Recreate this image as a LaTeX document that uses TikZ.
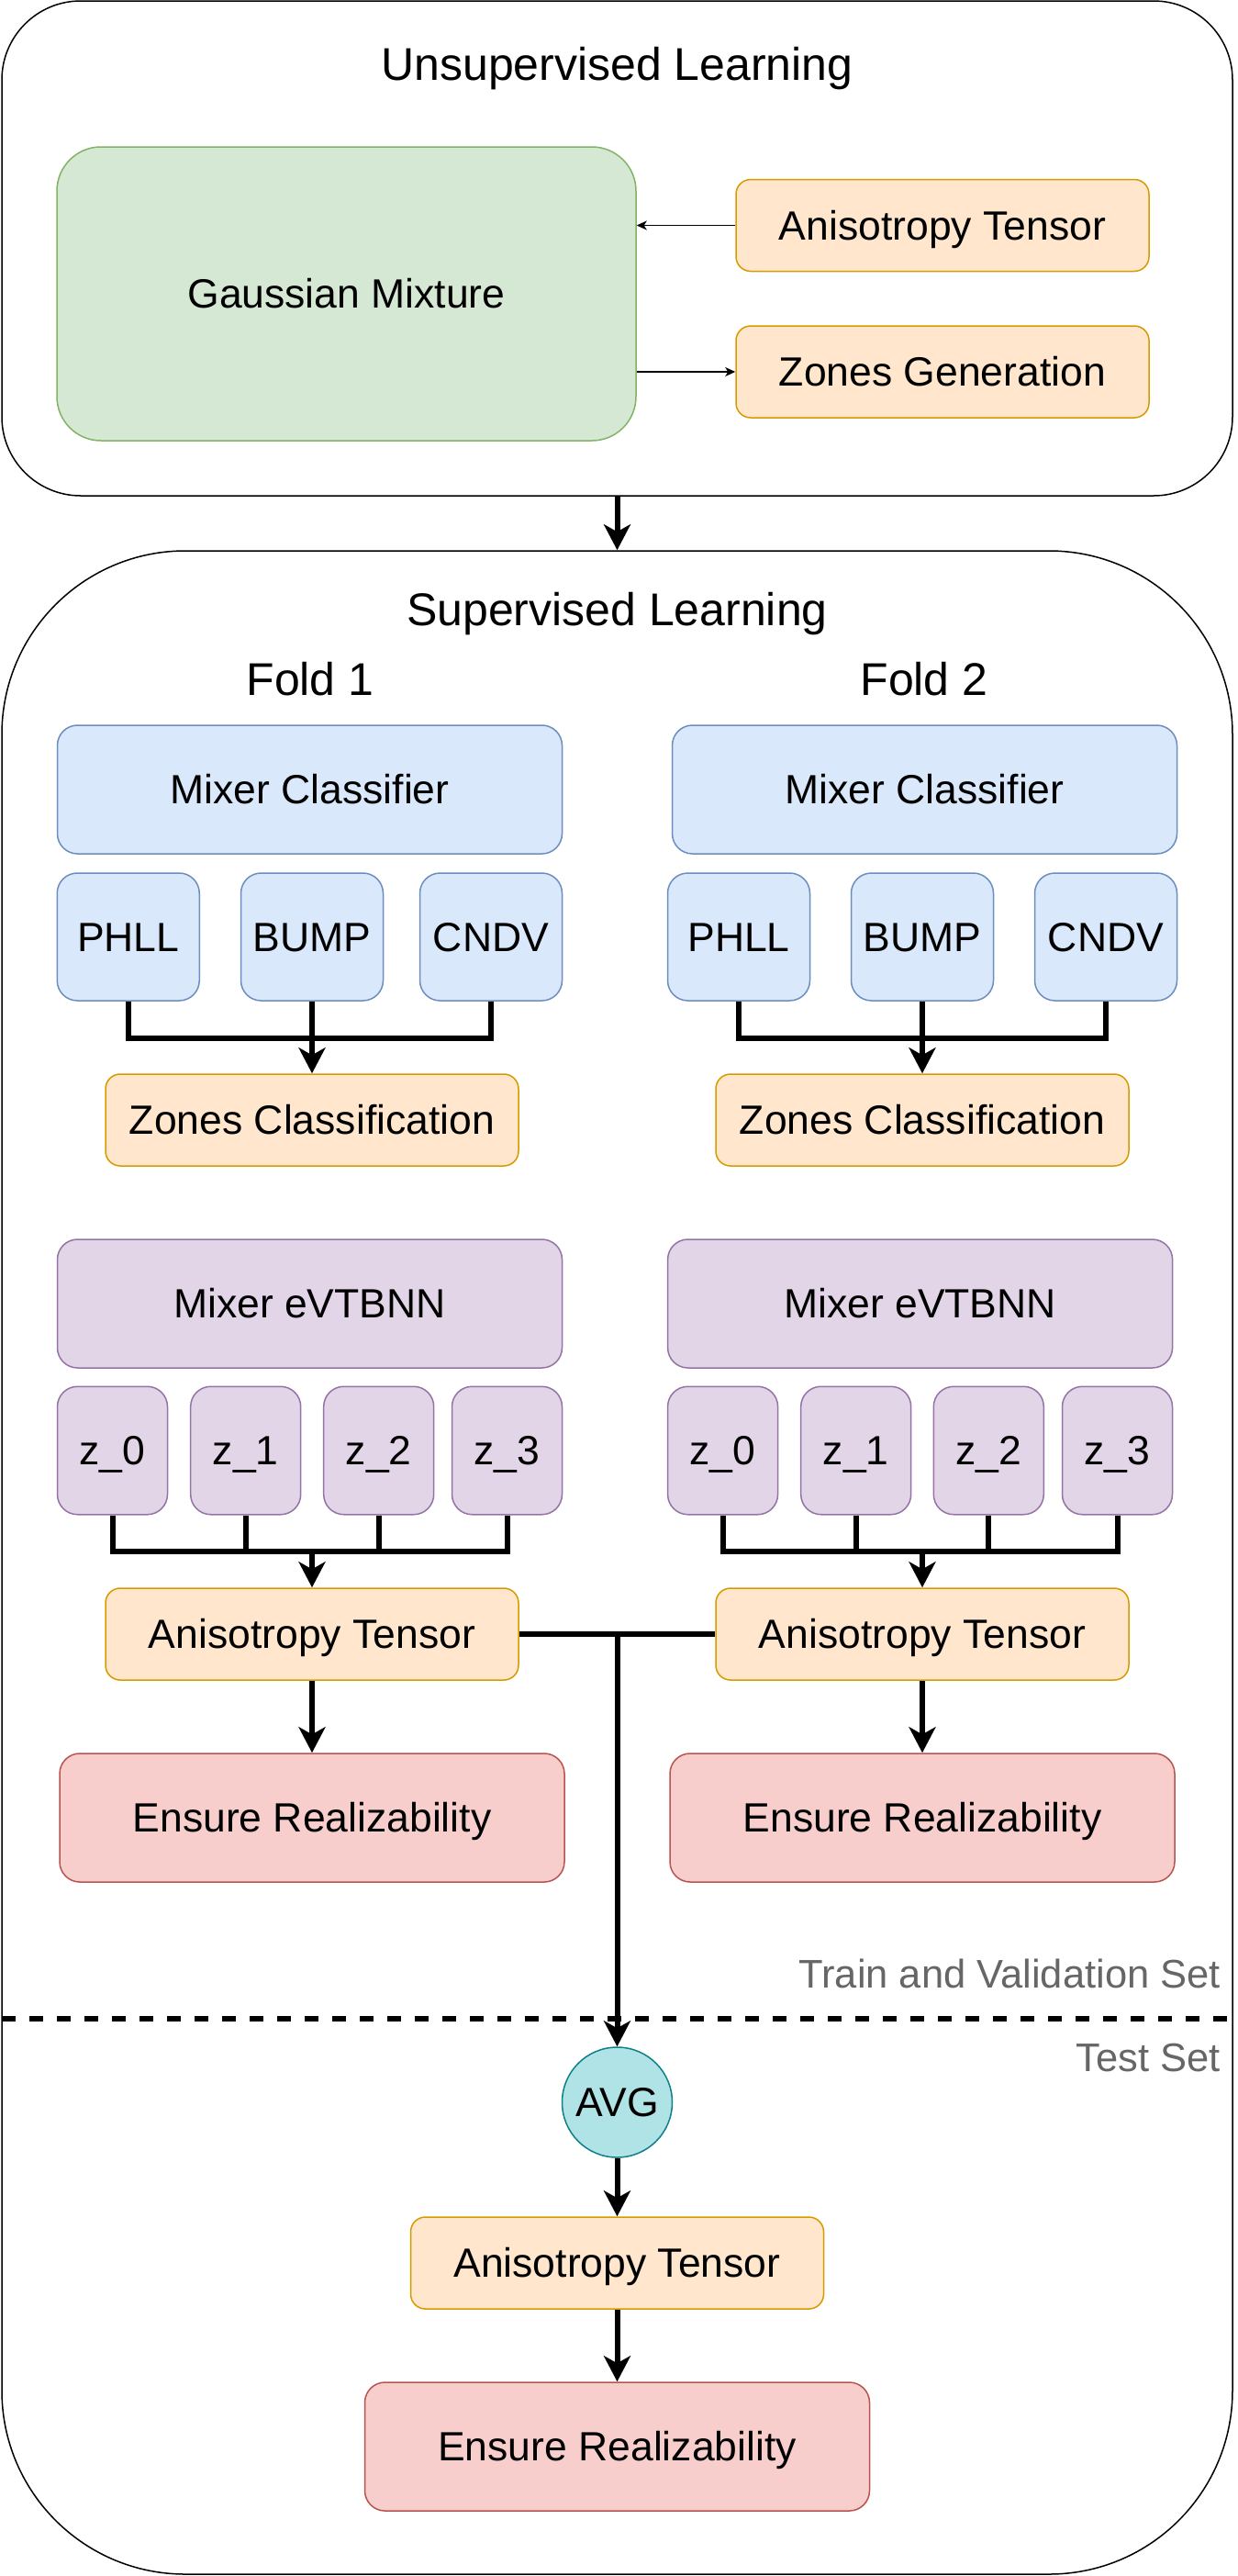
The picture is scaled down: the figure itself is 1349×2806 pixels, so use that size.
\documentclass[tikz,border=0pt]{standalone}
\usepackage{fontspec}
\setmainfont{Liberation Sans}
\usetikzlibrary{arrows.meta}

\definecolor{gmfill}{HTML}{D5E8D4}
\definecolor{gmdraw}{HTML}{82B366}
\definecolor{atfill}{HTML}{FFE6CC}
\definecolor{atdraw}{HTML}{D79B00}
\definecolor{mcfill}{HTML}{DAE8FC}
\definecolor{mcdraw}{HTML}{6C8EBF}
\definecolor{mefill}{HTML}{E1D5E7}
\definecolor{medraw}{HTML}{9673A6}
\definecolor{erfill}{HTML}{F8CECC}
\definecolor{erdraw}{HTML}{B85450}
\definecolor{avgfill}{HTML}{B0E3E6}
\definecolor{avgdraw}{HTML}{0E8088}
\definecolor{setgray}{HTML}{666666}

\tikzset{
  box/.style={draw,inner sep=0pt,line width=1.5pt,text height=31pt,text depth=0pt,
    font=\fontsize{44.5}{53}\selectfont},
  wide/.style={minimum width=550pt,minimum height=140pt,rounded corners=22pt},
  flat/.style={minimum width=450pt,minimum height=100pt,rounded corners=16pt},
  tall/.style={minimum width=155pt,minimum height=139pt,rounded corners=22pt},
  zbox/.style={minimum width=120pt,minimum height=139.5pt,rounded corners=22pt},
  link/.style={line width=6pt},
  arr/.style={link,-{Stealth[length=28pt,width=29pt,inset=8pt]}},
  smallarr/.style={line width=1.5pt,-{Stealth[length=11pt,width=10pt,inset=3pt]}}
}

\begin{document}
\begin{tikzpicture}[x=1pt,y=-1pt]

      \useasboundingbox (0,0) rectangle (1349,2806);

      \begin{scope}[every node/.style={draw,line width=1.5pt,inner sep=0pt,minimum width=1341pt}]
        \node[rounded corners=86pt,minimum height=539pt]   (unsup) at (672.5,270.5) {};
        \node[rounded corners=200pt,minimum height=2204pt] (sup)   at (672.5,1702)  {};
      \end{scope}

      \begin{scope}[every node/.style={anchor=base,font=\fontsize{50}{60}\selectfont}]
        \node (unsuptitle) at (672.5,87) {Unsupervised Learning};
        \node (suptitle)   at (672.5,681) {Supervised Learning};
        \node (fold1)      at (338,757)   {Fold 1};
        \node (fold2)      at (1007,757)  {Fold 2};
      \end{scope}

      \node[box,rounded corners=48pt,fill=gmfill,draw=gmdraw,minimum width=631pt,minimum height=320pt]
        (gm) at (377.5,320) {Gaussian Mixture};

      \begin{scope}[every node/.style={box,flat,fill=atfill,draw=atdraw}]
        \node (at0) at (1027,245.5) {Anisotropy Tensor};
        \node (zg)  at (1027,405)   {Zones Generation};
        \node (zc1) at (340,1220)   {Zones Classification};
        \node (zc2) at (1005,1220)  {Zones Classification};
        \node (at1) at (340,1780)   {Anisotropy Tensor};
        \node (at2) at (1005,1780)  {Anisotropy Tensor};
        \node (at3) at (672.5,2465) {Anisotropy Tensor};
      \end{scope}

      \begin{scope}[every node/.style={box,fill=mcfill,draw=mcdraw}]
        \node[wide] (mc1) at (337.5,860)   {Mixer Classifier};
        \node[wide] (mc2) at (1007.5,860)  {Mixer Classifier};
        \node[tall] (p1)  at (139.75,1020.5) {PHLL};
        \node[tall] (b1)  at (340,1020.5)  {BUMP};
        \node[tall] (c1)  at (535,1020.5)  {CNDV};
        \node[tall] (p2)  at (805,1020.5)  {PHLL};
        \node[tall] (b2)  at (1005,1020.5) {BUMP};
        \node[tall] (c2)  at (1205,1020.5) {CNDV};
      \end{scope}

      \begin{scope}[every node/.style={box,fill=mefill,draw=medraw}]
        \node[wide] (me1) at (337.5,1420)  {Mixer eVTBNN};
        \node[wide] (me2) at (1002.6,1420) {Mixer eVTBNN};
        \node[zbox] (z10) at (122.5,1580)  {z\_0};
        \node[zbox] (z11) at (267.7,1580)  {z\_1};
        \node[zbox] (z12) at (412.7,1580)  {z\_2};
        \node[zbox] (z13) at (552.5,1580)  {z\_3};
        \node[zbox] (z20) at (787.6,1580)  {z\_0};
        \node[zbox] (z21) at (932.7,1580)  {z\_1};
        \node[zbox] (z22) at (1077.3,1580) {z\_2};
        \node[zbox] (z23) at (1217.5,1580) {z\_3};
      \end{scope}

      \begin{scope}[every node/.style={box,wide,fill=erfill,draw=erdraw}]
        \node (er1) at (340,1980)   {Ensure Realizability};
        \node (er2) at (1005,1980)  {Ensure Realizability};
        \node (er3) at (672.5,2665) {Ensure Realizability};
      \end{scope}

      \node[box,circle,fill=avgfill,draw=avgdraw,minimum size=120pt] (avg) at (672.5,2290) {AVG};

      \begin{scope}[every node/.style={anchor=base east,inner sep=0pt,text=setgray,font=\fontsize{43.5}{52}\selectfont}]
        \node (trainset) at (1330,2165)   {Train and Validation Set};
        \node (testset)  at (1330,2256.5) {Test Set};
      \end{scope}

      \draw[link,dash pattern=on 15pt off 15pt] (2,2198.5) -- (1343,2198.5);

      \coordinate (j1) at (340,1131);
      \coordinate (j2) at (1005,1131);
      \coordinate (k1) at (340,1689.5);
      \coordinate (k2) at (1005,1689.5);
      \coordinate (m)  at (avg |- at1);

      \draw[arr] (unsup.south) -- (sup.north);
      \draw[smallarr] (at0.west) -- (gm.east |- at0.west);
      \draw[smallarr] (gm.east |- zg.west) -- (zg.west);

      \draw[link] (p1.south) |- (j1) -| (c1.south);
      \draw[arr] (b1.south) -- (zc1.north);
      \draw[link] (p2.south) |- (j2) -| (c2.south);
      \draw[arr] (b2.south) -- (zc2.north);

      \draw[link] (z10.south) |- (k1) -| (z13.south);
      \draw[link] (z11.south) -- (z11.south |- k1);
      \draw[link] (z12.south) -- (z12.south |- k1);
      \draw[arr] (k1) -- (at1.north);
      \draw[link] (z20.south) |- (k2) -| (z23.south);
      \draw[link] (z21.south) -- (z21.south |- k2);
      \draw[link] (z22.south) -- (z22.south |- k2);
      \draw[arr] (k2) -- (at2.north);

      \draw[arr] (at1.south) -- (er1.north);
      \draw[arr] (at2.south) -- (er2.north);
      \draw[link] (at1.east) -- (m) -- (at2.west);
      \draw[arr] (m) -- (avg.north);
      \draw[arr] (avg.south) -- (at3.north);
      \draw[arr] (at3.south) -- (er3.north);

    \end{tikzpicture}
\end{document}
